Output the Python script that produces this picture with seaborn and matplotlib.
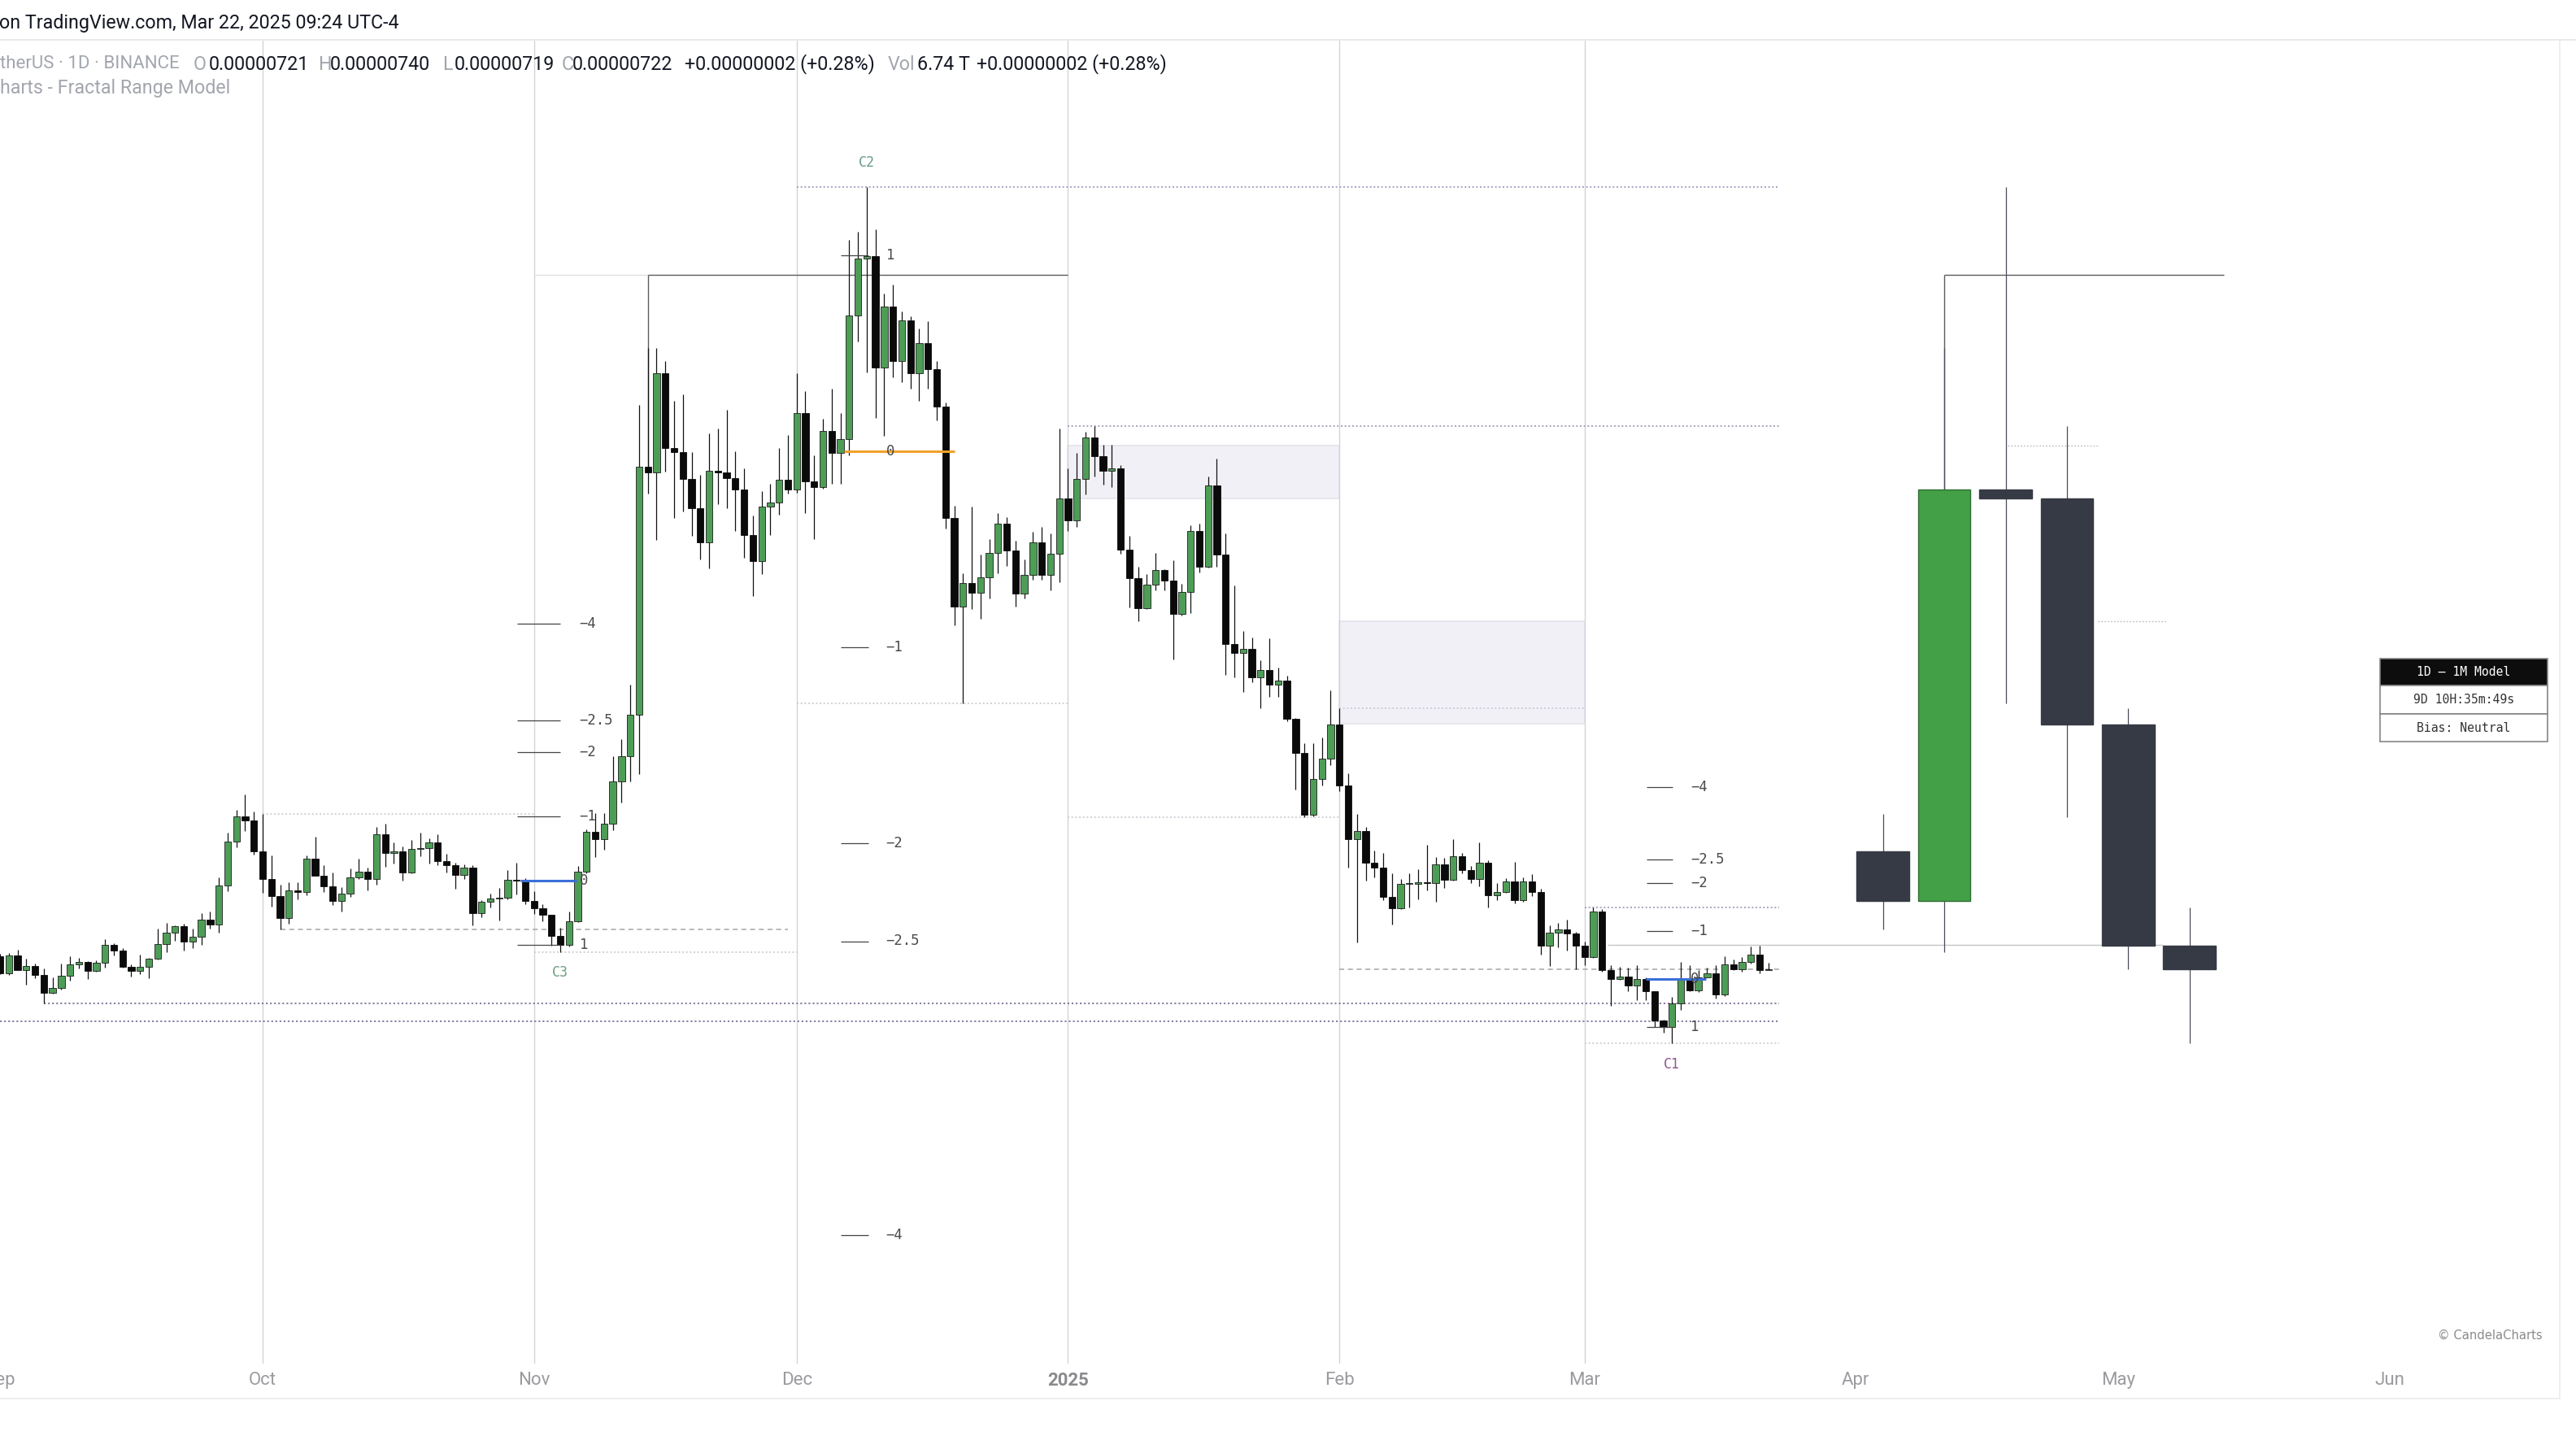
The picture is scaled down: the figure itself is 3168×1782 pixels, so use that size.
"""
plot.py
Daily candles + 1M fractal range model overlay (TradingView snapshot look)
"""

import numpy as np
import pandas as pd
import matplotlib
matplotlib.use("Agg")
import matplotlib.pyplot as plt
from matplotlib.lines import Line2D
from matplotlib.patches import Rectangle
import seaborn as sns

# ─────────────────────────────────────────────────────────────
# DATA  (prices in chart ticks, 1 tick ~ 2.2e-8 USDT)
# ─────────────────────────────────────────────────────────────

START_DATE = "2024-09-01"
FIRST_OPEN = 344

CLOSES = [
    323, 345, 327, 332, 321, 299, 305, 320, 334, 337,
    326, 336, 358, 351, 331, 326, 331, 341, 359, 373,
    381, 362, 368, 389, 383, 431, 485, 516, 511, 473,
    439, 418, 391, 425, 423, 464, 443, 430, 412, 421,
    441, 448, 439, 494, 471, 473, 447, 476, 477, 484,
    461, 456, 444, 453, 397, 411, 415, 416, 438, 437,
    412, 403, 395, 369, 358, 387, 448, 497, 488, 507,
    559, 590, 641, 946, 939, 1061, 969, 964, 931, 895,
    853, 941, 939, 932, 918, 862, 830, 897, 902, 930,
    918, 1012, 928, 921, 990, 963, 980, 1132, 1202, 1205,
    1068, 1143, 1076, 1126, 1061, 1098, 1066, 1020, 883, 774,
    803, 791, 810, 840, 876, 843, 790, 813, 853, 813,
    839, 907, 880, 931, 982, 959, 941, 944, 844, 809,
    772, 801, 819, 806, 765, 792, 867, 823, 923, 838,
    728, 717, 722, 687, 696, 678, 683, 636, 594, 518,
    562, 587, 629, 554, 488, 498, 459, 453, 417, 403,
    433, 433, 435, 434, 457, 438, 467, 450, 439, 459,
    419, 423, 436, 413, 436, 423, 357, 373, 377, 372,
    357, 343, 399, 327, 316, 319, 308, 316, 301, 265,
    257, 286, 315, 302, 318, 323, 297, 334, 328, 337,
    346, 327, 328,
]

HIGHS = [
    347, 348, 352, 341, 335, 329, 318, 335, 344, 342,
    338, 339, 365, 360, 354, 334, 346, 342, 378, 385,
    382, 384, 378, 397, 399, 441, 496, 524, 543, 522,
    519, 468, 432, 435, 435, 468, 491, 456, 447, 429,
    452, 464, 453, 503, 507, 484, 479, 487, 496, 489,
    494, 470, 459, 457, 456, 413, 421, 428, 450, 459,
    440, 424, 408, 395, 379, 399, 455, 500, 520, 520,
    590, 611, 678, 1022, 1092, 1092, 1076, 1027, 1035, 964,
    936, 987, 993, 1016, 965, 944, 886, 916, 925, 969,
    985, 1061, 1039, 960, 1005, 1042, 1012, 1225, 1235, 1290,
    1238, 1159, 1170, 1137, 1131, 1116, 1125, 1076, 1025, 898,
    815, 897, 838, 857, 889, 884, 855, 832, 866, 872,
    864, 993, 944, 963, 989, 996, 973, 973, 948, 861,
    823, 814, 840, 820, 831, 802, 874, 876, 934, 956,
    864, 800, 744, 736, 708, 735, 699, 689, 637, 606,
    606, 613, 671, 649, 569, 519, 503, 474, 471, 446,
    439, 446, 451, 481, 466, 465, 488, 471, 455, 484,
    462, 434, 440, 460, 441, 445, 427, 382, 385, 389,
    374, 362, 404, 402, 333, 331, 330, 333, 318, 301,
    266, 294, 337, 333, 327, 330, 333, 344, 340, 343,
    356, 357, 336,
]

LOWS = [
    322, 321, 327, 309, 317, 286, 298, 303, 314, 329,
    316, 325, 330, 345, 330, 319, 322, 317, 340, 349,
    363, 351, 354, 358, 378, 373, 424, 478, 498, 469,
    422, 405, 377, 384, 414, 419, 443, 423, 407, 399,
    417, 439, 425, 432, 454, 458, 437, 446, 467, 458,
    456, 447, 427, 439, 382, 392, 404, 388, 414, 420,
    408, 396, 387, 357, 349, 356, 386, 446, 466, 475,
    499, 533, 559, 568, 913, 856, 940, 883, 891, 861,
    832, 821, 900, 895, 867, 834, 787, 814, 862, 887,
    913, 914, 889, 857, 919, 925, 925, 960, 1100, 1062,
    1006, 984, 1056, 1050, 1042, 1027, 1042, 1003, 870, 751,
    655, 771, 759, 784, 815, 824, 774, 784, 807, 807,
    794, 804, 867, 872, 912, 934, 924, 921, 839, 773,
    756, 771, 794, 794, 709, 763, 766, 816, 822, 823,
    690, 687, 669, 681, 649, 663, 663, 633, 549, 515,
    516, 554, 579, 547, 453, 361, 437, 441, 413, 383,
    402, 404, 414, 425, 411, 428, 437, 446, 434, 430,
    404, 413, 422, 409, 411, 418, 346, 332, 355, 351,
    328, 333, 342, 325, 283, 315, 301, 290, 290, 257,
    250, 237, 278, 301, 300, 318, 292, 295, 327, 325,
    335, 323, 327,
]

MONTH_TICKS  = [0, 30, 61, 91, 122, 153, 181, 212, 242, 273]
MONTH_LABELS = ["Sep", "Oct", "Nov", "Dec", "2025", "Feb", "Mar", "Apr", "May", "Jun"]
SEPARATORS   = [30, 61, 91, 122, 153, 181]

MODEL_MONTHS = ["2024-10", "2024-11", "2024-12", "2025-01", "2025-02", "2025-03"]

# fractal projections: name, price at level 0, price at level 1
FRACTAL_LEVELS = [-4, -2.5, -2, -1, 0, 1]
LEVEL_TEXT     = ["\u22124", "\u22122.5", "\u22122", "\u22121", "0", "1"]
FRACTAL_NAMES  = ["C3", "C2", "C1"]
FRACTAL_ZERO   = [437, 965, 316]
FRACTAL_ONE    = [358, 1206, 257]
FRACTAL_TAG_Y  = [324, 1320, 211]

# level lines: price, from day, to day
RANGE_LINES  = [(519, 30, 61), (349, 61, 91), (655, 91, 122),
                (515, 122, 153), (649, 153, 181), (237, 181, 203.2)]
SWEEP_LINES  = [(1290, 91, 203.2), (996, 122, 203.2), (404, 181, 203.2)]
OLD_LOWS     = [(286, 5, 203.2), (264, 0, 203.2)]
DASHED_LINES = [(377, 32, 90), (328, 153, 203.2)]
OPEN_LINE    = (358, 183.6, 247.1)
MODEL_TOP    = 1182
GAP_BOXES    = [(122, 153, 907, 972), (153, 181, 630, 756)]
GAP_TICKS    = [(972, 229.3, 239.8), (756, 239.6, 247.5)]

TABLE_ROWS = ["1D \u2013 1M Model", "9D 10H:35m:49s", "Bias: Neutral"]

# ─────────────────────────────────────────────────────────────
# STYLE
# ─────────────────────────────────────────────────────────────

W, H, DPI = 3168, 1782, 200
GREEN      = "#4e9d57"
BLACK      = "#0a0a0a"
M_GREEN    = "#43a047"
M_DARK     = "#363a45"
PURPLE     = "#a193b6"
PURPLE_DK  = "#7f7196"
LIGHT      = "#cacad3"
DOTS       = (0, (1.2, 1.6))
HEAD_SIZE  = 8.4

sns.set_theme(style="white")
plt.rcParams["font.family"] = ["Roboto", "DejaVu Sans"]


def fx(px):
    return px / W


def fy(py):
    return 1 - py / H


# ─────────────────────────────────────────────────────────────
# DATA FRAMES
# ─────────────────────────────────────────────────────────────

closes = np.array(CLOSES, dtype=float)
highs  = np.array(HIGHS, dtype=float)
lows   = np.array(LOWS, dtype=float)
opens  = np.concatenate([[FIRST_OPEN], closes[:-1]])
days   = np.arange(len(closes))

daily = pd.DataFrame({
    "date": pd.date_range(START_DATE, periods=len(closes), freq="D"),
    "open": opens, "high": highs, "low": lows, "close": closes,
})
daily["month"] = daily["date"].dt.strftime("%Y-%m")
monthly = daily.groupby("month").agg(
    open=("open", "first"), high=("high", "max"),
    low=("low", "min"), close=("close", "last"),
).loc[MODEL_MONTHS].reset_index()
monthly["x"] = 215.1 + 7.0 * np.arange(len(monthly))

# ─────────────────────────────────────────────────────────────
# FIGURE
# ─────────────────────────────────────────────────────────────

fig = plt.figure(figsize=(W / DPI, H / DPI), dpi=DPI)
fig.patch.set_facecolor("white")
ax = fig.add_axes([0, 1 - 1677 / H, 3148 / W, (1677 - 50) / H])
ax.set_facecolor("white")
ax.set_xlim(0.093, 292.4)
ax.set_ylim(-157, 1470)
for s in ax.spines.values():
    s.set_visible(False)
ax.set_yticks([])

# month separators
for m in SEPARATORS:
    ax.axvline(m, color="#d4d4d8", lw=0.5, zorder=0.6)

# gap boxes
for x0, x1, p0, p1 in GAP_BOXES:
    ax.add_patch(Rectangle((x0, p0), x1 - x0, p1 - p0, facecolor="#f1f0f6",
                           edgecolor="#e4e2ec", lw=0.6, zorder=0.5))

# level lines
for p, x0, x1 in RANGE_LINES:
    ax.hlines(p, x0, x1, colors=LIGHT, lw=0.6, linestyles=DOTS, zorder=1)
for p, x0, x1 in SWEEP_LINES:
    ax.hlines(p, x0, x1, colors=PURPLE, lw=0.6, linestyles=DOTS, zorder=1)
for p, x0, x1 in OLD_LOWS:
    ax.hlines(p, x0, x1, colors=PURPLE_DK, lw=0.65, linestyles=DOTS, zorder=1)
for p, x0, x1 in DASHED_LINES:
    ax.hlines(p, x0, x1, colors="#a6a6ab", lw=0.55, linestyles=(0, (4, 3)), zorder=1)
ax.hlines(OPEN_LINE[0], OPEN_LINE[1], OPEN_LINE[2], colors="#c4c4c8", lw=0.5, zorder=1)
for p, x0, x1 in GAP_TICKS:
    ax.hlines(p, x0, x1, colors="#b9b9c2", lw=0.5, linestyles=DOTS, zorder=1)

# model top bracket (daily side + monthly side)
ax.hlines(MODEL_TOP, 61, 74, colors="#e0e0e5", lw=0.5, zorder=1)
ax.hlines(MODEL_TOP, 74, 122, colors="#5c5c5c", lw=0.5, zorder=1)
ax.vlines(74, closes[74], MODEL_TOP, colors="#5c5c5c", lw=0.5, zorder=1)
nov = monthly.iloc[1]
ax.vlines(nov["x"], nov["close"], MODEL_TOP, colors="#5c5c5c", lw=0.5, zorder=1)
ax.hlines(MODEL_TOP, nov["x"], 254, colors="#5c5c5c", lw=0.5, zorder=1)

# daily candles
up = closes >= opens
bottoms = np.minimum(opens, closes)
heights = np.maximum(np.abs(closes - opens), 1.2)
ax.vlines(days, lows, highs, colors="#111111", lw=0.45, zorder=3)
ax.bar(days[up], heights[up], bottom=bottoms[up], width=0.77,
       color=GREEN, edgecolor="#1b1b1b", linewidth=0.3, zorder=4)
ax.bar(days[~up], heights[~up], bottom=bottoms[~up], width=0.77,
       color=BLACK, edgecolor=BLACK, linewidth=0.3, zorder=4)

# monthly model candles
m_up = monthly["close"] >= monthly["open"]
ax.vlines(monthly["x"], monthly["low"], monthly["high"], colors="#4a4e59", lw=0.45, zorder=3)
ax.bar(monthly["x"], np.maximum((monthly["close"] - monthly["open"]).abs(), 2),
       bottom=np.minimum(monthly["open"], monthly["close"]), width=6.0,
       color=[M_GREEN if u else M_DARK for u in m_up],
       edgecolor=["#2f6f33" if u else M_DARK for u in m_up], linewidth=0.5, zorder=4)

# fractal projections
tick_span  = [(59.1, 64.0), (96.0, 99.2), (188.1, 191.1)]
label_x    = [66.2, 101.2, 193.1]
zero_span  = [(59.4, 65.9), (96.4, 109.0), (188.0, 194.9)]
zero_color = ["#3a6fd8", "#f0a12a", "#3a6fd8"]
tag_x      = [64, 99, 191]
tag_color  = ["#6f9f82", "#6a9c86", "#8c5a8c"]
for k, name in enumerate(FRACTAL_NAMES):
    p0, p1 = FRACTAL_ZERO[k], FRACTAL_ONE[k]
    for lvl, txt in zip(FRACTAL_LEVELS, LEVEL_TEXT):
        price = p0 + lvl * (p1 - p0)
        if lvl == 0:
            ax.hlines(price, *zero_span[k], colors=zero_color[k], lw=1.1, zorder=5)
        else:
            ax.hlines(price, *tick_span[k], colors="#444444", lw=0.45, zorder=5)
        ax.text(label_x[k], price, txt, fontsize=6.2, color="#4a4a4a",
                family="DejaVu Sans Mono", va="center", ha="left", zorder=6)
    ax.text(tag_x[k], FRACTAL_TAG_Y[k], name, fontsize=6, color=tag_color[k],
            family="DejaVu Sans Mono", va="center", ha="center", zorder=6)

# time scale
ax.set_xticks(MONTH_TICKS)
ax.set_xticklabels(MONTH_LABELS)
ax.tick_params(axis="x", length=0, pad=3.5, labelsize=8, labelcolor="#9b9b9f")
for lab in ax.get_xticklabels():
    if lab.get_text() == "2025":
        lab.set_fontweight("bold")
        lab.set_color("#8a8a8e")

# frame lines
fig.add_artist(Line2D([0, 1], [fy(49), fy(49)], color="#e6e6ea", lw=0.6))
fig.add_artist(Line2D([0, fx(3148)], [fy(1720), fy(1720)], color="#ecebf0", lw=0.6))
fig.add_artist(Line2D([fx(3148), fx(3148)], [fy(1720), fy(49)], color="#ecebf0", lw=0.6))

# header + legend
DARK, GREY = "#131722", "#a3a6ae"
fig.text(fx(-1), fy(28), "on TradingView.com, Mar 22, 2025 09:24 UTC-4",
         fontsize=HEAD_SIZE, color=DARK, va="center", ha="left")
legend_parts = [
    ("therUS \u00b7 1D \u00b7 BINANCE", 0, GREY, 8.0), ("O", 238, GREY, HEAD_SIZE),
    ("0.00000721", 257, DARK, HEAD_SIZE), ("H", 391, GREY, HEAD_SIZE),
    ("0.00000740", 406, DARK, HEAD_SIZE), ("L", 544, GREY, HEAD_SIZE),
    ("0.00000719", 559, DARK, HEAD_SIZE), ("C", 691, GREY, HEAD_SIZE),
    ("0.00000722", 704, DARK, HEAD_SIZE), ("+0.00000002 (+0.28%)", 842, DARK, HEAD_SIZE),
    ("Vol", 1092, GREY, HEAD_SIZE), ("6.74 T", 1128, DARK, HEAD_SIZE),
    ("+0.00000002 (+0.28%)", 1201, DARK, HEAD_SIZE),
]
for txt, xp, col, size in legend_parts:
    fig.text(fx(xp), fy(79), txt, fontsize=size, color=col, va="center", ha="left")
fig.text(fx(0), fy(109), "harts - Fractal Range Model", fontsize=HEAD_SIZE, color=GREY,
         va="center", ha="left")

# model table
row_edges = [810, 843, 878, 912]
for r, txt in enumerate(TABLE_ROWS):
    y0, y1 = row_edges[r], row_edges[r + 1]
    bg = "#0d0d0d" if r == 0 else "white"
    fg = "white" if r == 0 else "#333333"
    fig.add_artist(Rectangle((fx(2927), fy(y1)), fx(3133) - fx(2927), fy(y0) - fy(y1),
                             transform=fig.transFigure, facecolor=bg,
                             edgecolor="#858585", lw=0.6))
    fig.text(fx(3030), fy((y0 + y1) / 2), txt, fontsize=5.3, color=fg,
             family="DejaVu Sans Mono", va="center", ha="center")

fig.text(fx(3127), fy(1642), "\u00a9 CandelaCharts", fontsize=5.3, color="#8a8a8a",
         va="center", ha="right", family="DejaVu Sans")

fig.savefig("out.png", dpi=DPI, facecolor="white")
